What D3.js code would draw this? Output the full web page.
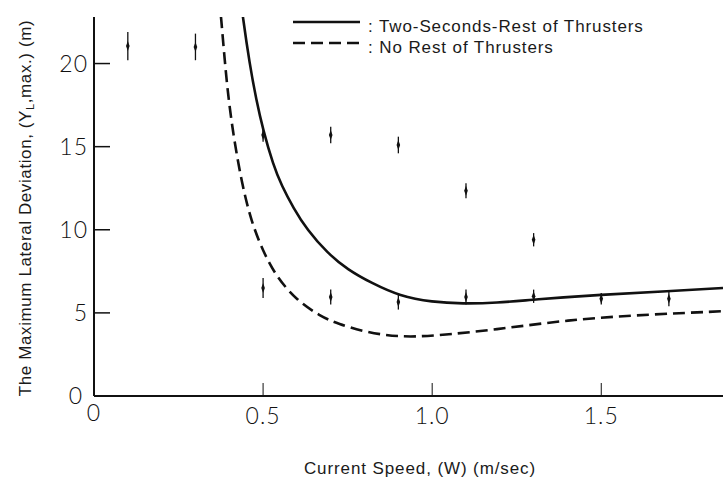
<!DOCTYPE html>
<html>
<head>
<meta charset="utf-8">
<script src="https://cdn.jsdelivr.net/npm/d3@7"></script>
<style>
  body { margin: 0; background: #fff; }
  svg { display: block; }
  .tick-label { font-family: Lato, "DejaVu Sans", sans-serif; font-weight: 300; font-size: 23px; fill: #111; letter-spacing: 1px; }
  .title { font-family: "Liberation Sans", Arial, sans-serif; font-size: 17px; fill: #1a1a1a; letter-spacing: 0.9px; }
  .legend { font-family: "Liberation Sans", Arial, sans-serif; font-size: 17px; fill: #1a1a1a; letter-spacing: 0.9px; }
</style>
</head>
<body>
<div id="chart"></div>
<script>
// two-seconds-rest of thrusters (solid)
var speedTwoSec = [0.43, 0.44, 0.46, 0.48, 0.50, 0.53, 0.555, 0.59, 0.63, 0.69, 0.75, 0.82, 0.905, 1.0, 1.09, 1.19, 1.30, 1.50, 1.70, 1.86];
var devTwoSec   = [24.5, 22.8, 20.0, 17.8, 16.0, 13.9, 12.65, 11.3, 10.0, 8.6, 7.6, 6.8, 6.0, 5.65, 5.55, 5.6, 5.8, 6.1, 6.3, 6.5];

// no rest of thrusters (dashed)
var speedNoRest = [0.365, 0.376, 0.392, 0.411, 0.437, 0.465, 0.50, 0.54, 0.60, 0.669, 0.72, 0.81, 0.905, 1.0, 1.19, 1.39, 1.586, 1.86];
var devNoRest   = [25, 22.8, 18.8, 15.8, 12.8, 10.5, 8.7, 7.15, 5.75, 4.8, 4.35, 3.8, 3.55, 3.6, 4.0, 4.55, 4.85, 5.1];

// measured marks (short vertical bars)
var markSpeed = [0.1, 0.3, 0.5, 0.7, 0.9, 1.1, 1.3, 0.5, 0.7, 0.9, 1.1, 1.3, 1.5, 1.7];
var markHi    = [21.9, 21.8, 16.1, 16.2, 15.6, 12.8, 9.8, 7.1, 6.4, 6.1, 6.4, 6.4, 6.2, 6.3];
var markLo    = [20.2, 20.2, 15.3, 15.2, 14.6, 11.9, 9.0, 5.9, 5.5, 5.2, 5.5, 5.6, 5.5, 5.4];

var xTicks = [0.5, 1.0, 1.5];
var xTickLabels = ["0.5", "1.0", "1.5"];
var yTicks = [5, 10, 15, 20];

var legendLabels = [": Two-Seconds-Rest of Thrusters", ": No Rest of Thrusters"];
var legendDash = ["none", "12,6"];

var width = 723, height = 480;

var x = d3.scaleLinear().domain([0, 1.86]).range([94, 723]);
var y = d3.scaleLinear().domain([0, 22.8]).range([396, 17]);

var svg = d3.select("#chart")
    .append("svg")
    .attr("width", width)
    .attr("height", height)

svg.append("defs")
    .append("clipPath")
    .attr("id", "plot")
    .append("rect")
    .attr("x", x(0))
    .attr("y", y(22.8))
    .attr("width", x(1.86) - x(0))
    .attr("height", y(0) - y(22.8))

// axes
svg.append("line")
    .attr("x1", x(0)).attr("x2", x(0))
    .attr("y1", y(22.8)).attr("y2", y(0))
    .attr("stroke", "#111").attr("stroke-width", 2)

svg.append("line")
    .attr("x1", x(0)).attr("x2", x(1.86))
    .attr("y1", y(0)).attr("y2", y(0))
    .attr("stroke", "#111").attr("stroke-width", 2)

// y ticks (inside)
svg.selectAll(".ytick")
    .data(yTicks)
    .enter()
    .append("line")
    .attr("x1", x(0)).attr("x2", x(0) + 16)
    .attr("y1", function(d){ return y(d); })
    .attr("y2", function(d){ return y(d); })
    .attr("stroke", "#111").attr("stroke-width", 1.5)

svg.selectAll(".ylab")
    .data(yTicks)
    .enter()
    .append("text")
    .attr("class", "tick-label")
    .attr("x", x(0) - 6)
    .attr("y", function(d){ return y(d) + 8; })
    .attr("text-anchor", "end")
    .text(function(d){ return d; })

// x ticks (inside)
svg.selectAll(".xtick")
    .data(xTicks)
    .enter()
    .append("line")
    .attr("x1", function(d){ return x(d); })
    .attr("x2", function(d){ return x(d); })
    .attr("y1", y(0) - 1).attr("y2", y(0) - 13)
    .attr("stroke", "#111").attr("stroke-width", 1)

svg.selectAll(".xlab")
    .data(xTicks)
    .enter()
    .append("text")
    .attr("class", "tick-label")
    .attr("x", function(d){ return x(d); })
    .attr("y", y(0) + 28)
    .attr("text-anchor", "middle")
    .text(function(d, i){ return xTickLabels[i]; })

// origin labels
svg.append("text")
    .attr("class", "tick-label")
    .attr("x", x(0) - 11).attr("y", y(0) + 8)
    .attr("text-anchor", "end")
    .text("0")

svg.append("text")
    .attr("class", "tick-label")
    .attr("x", x(0)).attr("y", y(0) + 25)
    .attr("text-anchor", "middle")
    .text("0")

// axis titles
svg.append("text")
    .attr("class", "title")
    .attr("x", 420).attr("y", 474)
    .attr("text-anchor", "middle")
    .text("Current Speed, (W) (m/sec)")

var ytitle = svg.append("text")
    .attr("class", "title")
    .attr("transform", "translate(31,208) rotate(-90)")
    .attr("text-anchor", "middle")
    .style("letter-spacing", "0.6px")

ytitle.append("tspan").text("The Maximum Lateral Deviation, (Y")
ytitle.append("tspan").attr("font-size", "11px").attr("dy", 3).text("L")
ytitle.append("tspan").attr("dy", -3).text(",max.) (m)")

// curves (b-spline smooths the hand-read points)
var line = d3.line()
    .x(function(d){ return x(d[0]); })
    .y(function(d){ return y(d[1]); })
    .curve(d3.curveBasis)

var plot = svg.append("g").attr("clip-path", "url(#plot)")

plot.append("path")
    .datum(d3.zip(speedTwoSec, devTwoSec))
    .attr("d", line)
    .attr("fill", "none")
    .attr("stroke", "#111")
    .attr("stroke-width", 2.6)

plot.append("path")
    .datum(d3.zip(speedNoRest, devNoRest))
    .attr("d", line)
    .attr("fill", "none")
    .attr("stroke", "#111")
    .attr("stroke-width", 2.6)
    .attr("stroke-dasharray", "12,6")

// marks
var marks = svg.selectAll(".mark")
    .data(d3.range(markSpeed.length))
    .enter()
    .append("g")

marks.append("line")
    .attr("x1", function(i){ return x(markSpeed[i]); })
    .attr("x2", function(i){ return x(markSpeed[i]); })
    .attr("y1", function(i){ return y(markHi[i]); })
    .attr("y2", function(i){ return y(markLo[i]); })
    .attr("stroke", "#111").attr("stroke-width", 1.3)

marks.append("path")
    .attr("d", function(i){
      var cx = x(markSpeed[i]), cy = y((markHi[i] + markLo[i]) / 2);
      return "M" + cx + "," + (cy - 5) + "L" + (cx + 1.8) + "," + cy + "L" + cx + "," + (cy + 5) + "L" + (cx - 1.8) + "," + cy + "Z";
    })
    .attr("fill", "#111")

// legend
var leg = svg.selectAll(".leg")
    .data(legendLabels)
    .enter()
    .append("g")
    .attr("transform", function(d, i){ return "translate(0," + (22 + i * 21) + ")"; })

leg.append("line")
    .attr("x1", 293).attr("x2", 360)
    .attr("y1", 0).attr("y2", 0)
    .attr("stroke", "#111").attr("stroke-width", 2.6)
    .attr("stroke-dasharray", function(d, i){ return legendDash[i]; })

leg.append("text")
    .attr("class", "legend")
    .attr("x", 368).attr("y", 10)
    .text(function(d){ return d; })
</script>
</body>
</html>
